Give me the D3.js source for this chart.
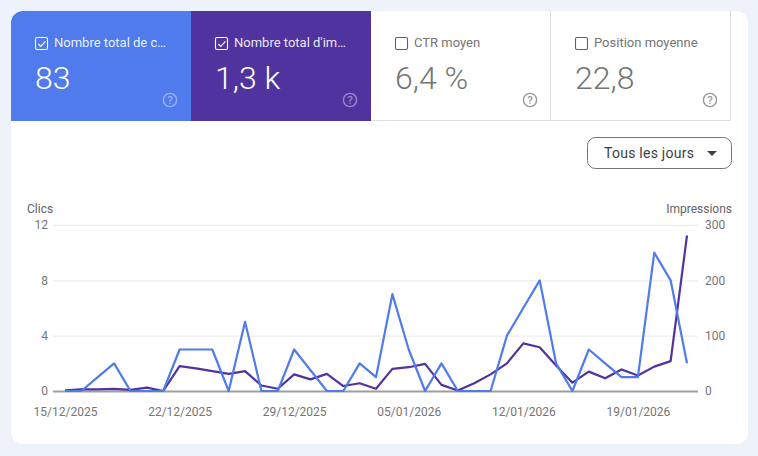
<!DOCTYPE html>
<html>
<head>
<meta charset="utf-8">
<script src="https://cdn.jsdelivr.net/npm/d3@7"></script>
<style>
  html, body { margin: 0; padding: 0; background: #eef2fb; }
  svg { display: block; font-family: Roboto, sans-serif; }
  .axis path { display: none; }
  .axis text { font-size: 12px; fill: #757575; font-family: Roboto, sans-serif; }
</style>
</head>
<body>
<svg id="viz" width="758" height="456"></svg>
<script>
const tileLabels = ["Nombre total de c…", "Nombre total d'im…", "CTR moyen", "Position moyenne"];
const tileValues = ["83", "1,3 k", "6,4 %", "22,8"];
const tileChecked = [true, true, false, false];
const tileFills = ["#4f7bec", "#5133a0", "#ffffff", "#ffffff"];

const dates = [
  "2025-12-15", "2025-12-16", "2025-12-17", "2025-12-18", "2025-12-19", "2025-12-20", "2025-12-21",
  "2025-12-22", "2025-12-23", "2025-12-24", "2025-12-25", "2025-12-26", "2025-12-27", "2025-12-28",
  "2025-12-29", "2025-12-30", "2025-12-31", "2026-01-01", "2026-01-02", "2026-01-03", "2026-01-04",
  "2026-01-05", "2026-01-06", "2026-01-07", "2026-01-08", "2026-01-09", "2026-01-10", "2026-01-11",
  "2026-01-12", "2026-01-13", "2026-01-14", "2026-01-15", "2026-01-16", "2026-01-17", "2026-01-18",
  "2026-01-19", "2026-01-20", "2026-01-21", "2026-01-22"
];
const clicks = [
  0, 0, 1, 2, 0, 0, 0,
  3, 3, 3, 0, 5, 0, 0,
  3, 1.5, 0, 0, 2, 1, 7,
  3, 0, 2, 0, 0, 0, 4,
  6, 8, 2, 0, 3, 2, 1,
  1, 10, 8, 2
];
const impressions = [
  1, 3, 3, 4, 2, 6, 0,
  45, 41, 36, 31, 36, 10, 4,
  30, 21, 31, 9, 14, 4, 40,
  43, 49, 11, 1, 14, 30, 50,
  86, 79, 46, 15, 35, 23, 39,
  28, 44, 54, 281
];
const dateTicks = ["2025-12-15", "2025-12-22", "2025-12-29", "2026-01-05", "2026-01-12", "2026-01-19"];
const clickTicks = [0, 4, 8, 12];
const impressionTicks = [0, 100, 200, 300];

const svg = d3.select("#viz");
const parseDay = d3.utcParse("%Y-%m-%d");

// --- Card ---
svg.append("rect")
  .attr("x", 11).attr("y", 11).attr("width", 737).attr("height", 433)
  .attr("rx", 12).attr("fill", "#fff");

// --- Tiles ---
const tileW = 180, tileH = 110, tileX0 = 11, tileY0 = 11;
const tiles = svg.append("g");
tiles.append("path")
  .attr("fill", tileFills[0])
  .attr("d", `M${tileX0} ${tileY0 + tileH}V${tileY0 + 12}A12 12 0 0 1 ${tileX0 + 12} ${tileY0}H${tileX0 + tileW}V${tileY0 + tileH}Z`);
tiles.append("rect")
  .attr("x", tileX0 + tileW).attr("y", tileY0).attr("width", tileW).attr("height", tileH)
  .attr("fill", tileFills[1]);
// grey borders of the unselected tiles
tiles.append("path")
  .attr("fill", "none").attr("stroke", "#dfdfdf")
  .attr("d", `M371 120.5H731M550.5 11V121M730.5 11V121`);

tileLabels.forEach((label, i) => {
  const on = tileChecked[i];
  const x = tileX0 + tileW * i;
  const g = tiles.append("g").attr("transform", `translate(${x},${tileY0})`);
  const fg = on ? "#fff" : "#757575";

  g.append("rect")
    .attr("x", 24.5).attr("y", 26.5).attr("width", 12).attr("height", 12).attr("rx", 1.5)
    .attr("fill", "none").attr("stroke", on ? "#fff" : "#616161").attr("stroke-width", 1.1);
  if (on) {
    g.append("path")
      .attr("d", "M27.3 33l2.4 2.4 4.8-5")
      .attr("fill", "none").attr("stroke", "#fff").attr("stroke-width", 1.1);
  }
  g.append("text")
    .attr("x", 43).attr("y", 36)
    .attr("font-size", 13).attr("fill", on ? "#fff" : "#757575")
    .attr("fill-opacity", on ? 0.9 : 1)
    .text(label);
  g.append("text")
    .attr("x", 24).attr("y", 78)
    .attr("font-size", 32).attr("font-weight", 300).attr("fill", fg)
    .text(tileValues[i]);

  // help icon
  g.append("circle")
    .attr("cx", 159).attr("cy", 89).attr("r", 6.6)
    .attr("fill", "none").attr("stroke", fg).attr("stroke-width", 1.4)
    .attr("stroke-opacity", on ? 0.42 : 0.75);
  g.append("text")
    .attr("x", 159).attr("y", 93.2).attr("text-anchor", "middle")
    .attr("font-size", 11.5).attr("font-weight", 500).attr("fill", fg)
    .attr("fill-opacity", on ? 0.42 : 0.75)
    .text("?");
});

// --- Dropdown ---
svg.append("rect")
  .attr("x", 587.5).attr("y", 137.5).attr("width", 144).attr("height", 31).attr("rx", 8)
  .attr("fill", "#fff").attr("stroke", "#757575");
svg.append("text")
  .attr("x", 604).attr("y", 158)
  .attr("font-size", 14).attr("letter-spacing", 0.25).attr("fill", "#3c4043")
  .text("Tous les jours");
svg.append("path")
  .attr("d", "M707 151h10l-5 5z").attr("fill", "#3c4043");

// --- Chart ---
const x = d3.scaleUtc()
  .domain([parseDay(dates[0]), parseDay(dates[dates.length - 1])])
  .range([65, 687]);
const yClicks = d3.scaleLinear().domain([0, 12]).range([391, 225]);
const yImpr = d3.scaleLinear().domain([0, 300]).range([391, 225]);

const chart = svg.append("g");

const gridLeft = 53, gridRight = 698;

const leftAxis = chart.append("g")
  .attr("class", "axis")
  .attr("transform", `translate(${gridLeft},0)`)
  .call(d3.axisLeft(yClicks).tickValues(clickTicks).tickSize(0).tickPadding(5));
leftAxis.selectAll("line")
  .attr("x2", gridRight - gridLeft)
  .attr("stroke", d => d === 0 ? "#9e9e9e" : "#eeeeee")
  .attr("stroke-width", d => d === 0 ? 2 : 1.4);

chart.append("g")
  .attr("class", "axis")
  .attr("transform", `translate(${gridRight},0)`)
  .call(d3.axisRight(yImpr).tickValues(impressionTicks).tickSize(0).tickPadding(7));

chart.append("g")
  .attr("class", "axis")
  .attr("transform", "translate(0,391)")
  .call(d3.axisBottom(x)
    .tickValues(dateTicks.map(parseDay))
    .tickSize(0).tickPadding(16)
    .tickFormat(d3.utcFormat("%d/%m/%Y")));

chart.append("text")
  .attr("x", 27).attr("y", 212.5)
  .attr("font-size", 12).attr("fill", "#5f6368").text("Clics");
chart.append("text")
  .attr("x", 732).attr("y", 212.5).attr("text-anchor", "end")
  .attr("font-size", 12).attr("fill", "#5f6368").text("Impressions");

const linePath = (values, yScale) => d3.line()
  .x((d, i) => x(parseDay(dates[i])))
  .y(d => yScale(d))(values);

chart.append("path")
  .attr("d", linePath(impressions, yImpr))
  .attr("fill", "none").attr("stroke", "#5133a0").attr("stroke-width", 2.2)
  .attr("stroke-linejoin", "round");
chart.append("path")
  .attr("d", linePath(clicks, yClicks))
  .attr("fill", "none").attr("stroke", "#4f7bec").attr("stroke-width", 2.2)
  .attr("stroke-linejoin", "round");
</script>
</body>
</html>
